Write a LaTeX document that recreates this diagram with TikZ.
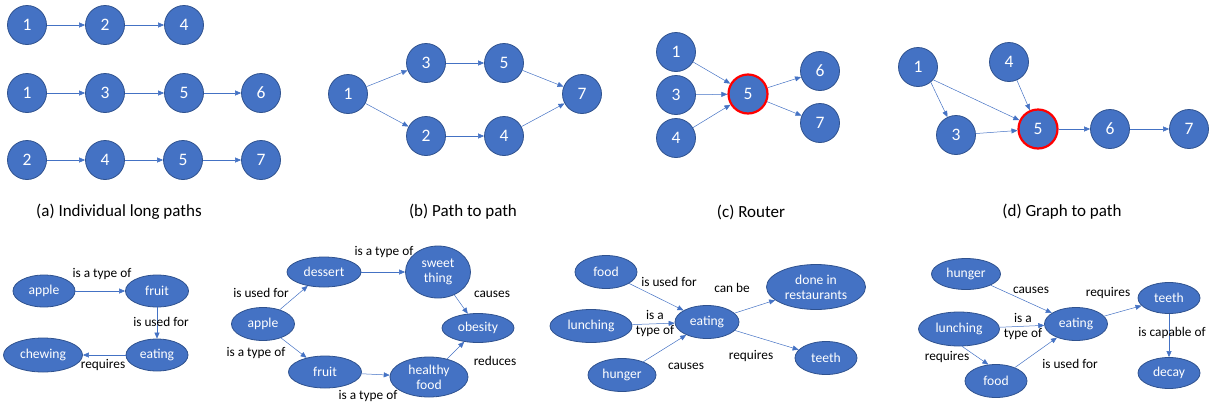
\documentclass[tikz,border=0pt]{standalone}
\usepackage{fontspec}
\setmainfont{Carlito}
\usetikzlibrary{shapes.geometric,arrows.meta}
\definecolor{nodeblue}{HTML}{4472C4}
\definecolor{nodeline}{HTML}{2F528F}
\definecolor{edgeblue}{HTML}{4472C4}
\begin{document}
\begin{tikzpicture}[x=1pt,y=-1pt,
  circ/.style={circle, fill=nodeblue, draw=nodeline, line width=0.8pt, minimum size=39pt, inner sep=0pt, text=white, font=\fontsize{17.5}{20}\selectfont},
  redring/.style={draw=red, line width=2.2pt},
  ell/.style={ellipse, fill=nodeblue, draw=nodeline, line width=0.8pt, inner sep=0pt, text=white, font=\fontsize{13.6}{15}\selectfont, align=center},
  lbl/.style={font=\fontsize{13.3}{15}\selectfont, text=black, align=center, inner sep=0pt},
  conn/.style={draw=edgeblue, line width=0.5pt, -{Triangle[length=6pt,width=5pt]}},
  captxt/.style={font=\fontsize{17}{19}\selectfont, inner sep=0pt}]
\useasboundingbox (0,0) rectangle (1211,405);
% ---- (a)
\node[circ] (a1) at (27,25) {1};
\node[circ] (a2) at (105,25) {2};
\node[circ] (a4) at (184,25) {4};
\node[circ] (b1) at (27,93) {1};
\node[circ] (b3) at (105,93) {3};
\node[circ] (b5) at (184,93) {5};
\node[circ] (b6) at (261,93) {6};
\node[circ] (c2) at (27,160) {2};
\node[circ] (c4) at (105,160) {4};
\node[circ] (c5) at (183,160) {5};
\node[circ] (c7) at (261,160) {7};
\draw[conn] (a1) -- (a2); \draw[conn] (a2) -- (a4);
\draw[conn] (b1) -- (b3); \draw[conn] (b3) -- (b5); \draw[conn] (b5) -- (b6);
\draw[conn] (c2) -- (c4); \draw[conn] (c4) -- (c5); \draw[conn] (c5) -- (c7);
\node[captxt] (capa) at (119,212) {(a) Individual long paths};
% ---- (b)
\node[circ] (p1) at (348,94) {1};
\node[circ] (p3) at (426,63) {3};
\node[circ] (p5) at (504,63) {5};
\node[circ] (p2) at (426,136) {2};
\node[circ] (p4) at (504,136) {4};
\node[circ] (p7) at (582,94) {7};
\draw[conn] (p1) -- (p3); \draw[conn] (p1) -- (p2);
\draw[conn] (p3) -- (p5); \draw[conn] (p2) -- (p4);
\draw[conn] (p5) -- (p7); \draw[conn] (p4) -- (p7);
\node[captxt] (capb) at (463,212) {(b) Path to path};
% ---- (c)
\node[circ] (r1) at (676,52) {1};
\node[circ] (r3) at (676,95) {3};
\node[circ] (r4) at (676,138) {4};
\node[circ,redring] (r5) at (748,94) {5};
\node[circ] (r6) at (820,71) {6};
\node[circ] (r7) at (820,123) {7};
\draw[conn] (r1) -- (r5); \draw[conn] (r3) -- (r5); \draw[conn] (r4) -- (r5);
\draw[conn] (r5) -- (r6); \draw[conn] (r5) -- (r7);
\node[captxt] (capc) at (751,212) {(c) Router};
% ---- (d)
\node[circ] (g1) at (918,67) {1};
\node[circ] (g4) at (1009,62) {4};
\node[circ] (g3) at (956,135) {3};
\node[circ,redring] (g5) at (1038,129) {5};
\node[circ] (g6) at (1110,129) {6};
\node[circ] (g7) at (1189,129) {7};
\draw[conn] (g1.-50) -- (g3); \draw[conn] (g1.-40) -- (g5);
\draw[conn] (g4) -- (g5); \draw[conn] (g3) -- (g5);
\draw[conn] (g5) -- (g6); \draw[conn] (g6) -- (g7);
\node[captxt] (capd) at (1062,212) {(d) Graph to path};
% ---- bottom 1
\node[ell, minimum width=62pt, minimum height=32pt] (e1apple) at (44,291) {apple};
\node[ell, minimum width=63pt, minimum height=32pt] (e1fruit) at (157,291) {fruit};
\node[ell, minimum width=79pt, minimum height=34pt] (e1chew) at (43,355) {chewing};
\node[ell, minimum width=62pt, minimum height=32pt] (e1eat) at (157,355) {eating};
\draw[conn] (e1apple) -- (e1fruit);
\draw[conn] (e1fruit) -- (e1eat);
\draw[conn] (e1eat) -- (e1chew);
\node[lbl] (l11) at (102,274) {is a type of};
\node[lbl] (l12) at (161,322) {is used for};
\node[lbl] (l13) at (103,365) {requires};
% ---- bottom 2
\node[ell, minimum width=74pt, minimum height=30pt] (e2des) at (324,272) {dessert};
\node[ell, minimum width=65pt, minimum height=52pt] (e2sweet) at (438,272) {sweet\\thing};
\node[ell, minimum width=63pt, minimum height=33pt] (e2apple) at (263,324) {apple};
\node[ell, minimum width=72pt, minimum height=29pt] (e2ob) at (478,328) {obesity};
\node[ell, minimum width=73pt, minimum height=32pt] (e2fruit) at (325,372) {fruit};
\node[ell, minimum width=78pt, minimum height=40pt] (e2hf) at (429,377) {healthy\\food};
\draw[conn] (e2apple) -- (e2des);
\draw[conn] (e2apple) -- (e2fruit);
\draw[conn] (e2des) -- (e2sweet);
\draw[conn] (e2sweet) -- (e2ob);
\draw[conn] (e2fruit) -- (e2hf);
\draw[conn] (e2hf) -- (e2ob);
\node[lbl] (l21) at (384,252) {is a type of};
\node[lbl] (l22) at (261,293) {is used for};
\node[lbl] (l23) at (256,353) {is a type of};
\node[lbl] (l24) at (368,396) {is a type of};
\node[lbl] (l25) at (492,294) {causes};
\node[lbl] (l26) at (495,361) {reduces};
% ---- bottom 3
\node[ell, minimum width=62pt, minimum height=33pt] (e3food) at (606,272) {food};
\node[ell, minimum width=82pt, minimum height=33pt] (e3lunch) at (591,326) {lunching};
\node[ell, minimum width=68pt, minimum height=33pt] (e3hung) at (622,375) {hunger};
\node[ell, minimum width=64pt, minimum height=33pt] (e3eat) at (707,322) {eating};
\node[ell, minimum width=99pt, minimum height=45pt] (e3done) at (816,287) {done in\\restaurants};
\node[ell, minimum width=62pt, minimum height=33pt] (e3teeth) at (826,358) {teeth};
\draw[conn] (e3food) -- (e3eat);
\draw[conn] (e3lunch) -- (e3eat);
\draw[conn] (e3hung) -- (e3eat);
\draw[conn] (e3eat) -- (e3done);
\draw[conn] (e3eat) -- (e3teeth);
\node[lbl] (l31) at (669,282) {is used for};
\node[lbl] (l32) at (655,323) {is a\\type of};
\node[lbl] (l33) at (686,366) {causes};
\node[lbl] (l34) at (732,288) {can be};
\node[lbl] (l35) at (751,356) {requires};
% ---- bottom 4
\node[ell, minimum width=69pt, minimum height=31pt] (e4hung) at (966,274) {hunger};
\node[ell, minimum width=81pt, minimum height=34pt] (e4lunch) at (959,329) {lunching};
\node[ell, minimum width=62pt, minimum height=33pt] (e4food) at (996,381) {food};
\node[ell, minimum width=63pt, minimum height=33pt] (e4eat) at (1076,324) {eating};
\node[ell, minimum width=62pt, minimum height=31pt] (e4teeth) at (1169,298) {teeth};
\node[ell, minimum width=62pt, minimum height=31pt] (e4decay) at (1169,373) {decay};
\draw[conn] (e4hung) -- (e4eat);
\draw[conn] (e4lunch) -- (e4eat);
\draw[conn] (e4lunch.-80) -- (e4food.115);
\draw[conn] (e4food) -- (e4eat);
\draw[conn] (e4eat) -- (e4teeth);
\draw[conn] (e4teeth) -- (e4decay);
\node[lbl] (l41) at (1031,290) {causes};
\node[lbl] (l42) at (1023,326) {is a\\type of};
\node[lbl] (l43) at (947,357) {requires};
\node[lbl] (l44) at (1070,364) {is used for};
\node[lbl] (l45) at (1108,293) {requires};
\node[lbl] (l46) at (1172,333) {is capable of};
\end{tikzpicture}
\end{document}
